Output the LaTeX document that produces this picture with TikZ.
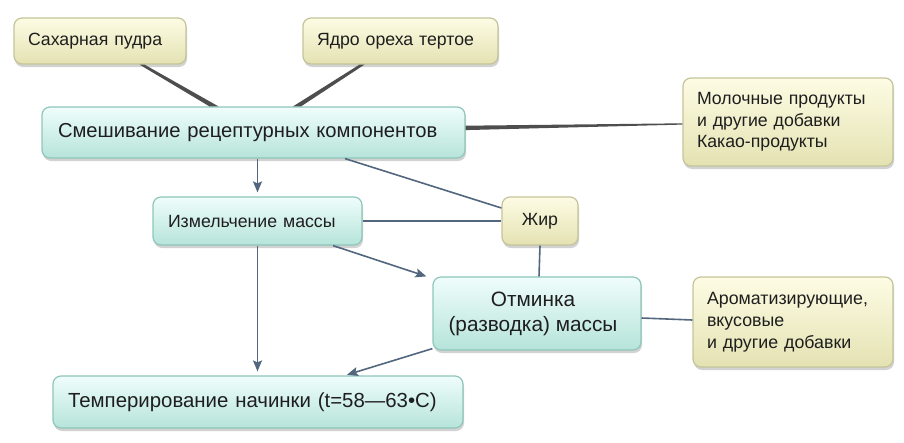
\documentclass[tikz,border=0pt]{standalone}
\usepackage{fontspec}
\setmainfont{Liberation Sans}
\usetikzlibrary{arrows.meta,shadows,calc}
\definecolor{ytop}{HTML}{FDFCE4}
\definecolor{ybot}{HTML}{E4E2B2}
\definecolor{yedge}{HTML}{C4C49A}
\definecolor{ctop}{HTML}{EFFDFB}
\definecolor{cbot}{HTML}{B6E4DA}
\definecolor{cedge}{HTML}{8EC6BA}
\definecolor{conn}{HTML}{52677D}
\definecolor{thick}{HTML}{4E4E4E}
\definecolor{txt}{HTML}{1E1E1E}
\tikzset{
  box/.style={rounded corners=8pt, line width=1.2pt, inner sep=0pt, text=txt,
    drop shadow={shadow xshift=1pt, shadow yshift=-3pt, opacity=0.25, fill=black!70}},
  ybox/.style={box, draw=yedge, top color=ytop, bottom color=ybot},
  cbox/.style={box, draw=cedge, top color=ctop, bottom color=cbot},
  conline/.style={draw=conn, line width=1.6pt},
  conarrow/.style={conline, -{Stealth[length=11pt,width=9pt,inset=2pt]}},
  thickfill/.style={fill=thick},
  smallfont/.style={font=\fontsize{17.7}{21.5}\selectfont},
}
\begin{document}
\begin{tikzpicture}[x=1pt,y=-1pt]
\useasboundingbox (0,0) rectangle (904,442);
\node[ybox, smallfont, minimum width=172pt, minimum height=46pt, text width=144pt, align=left] (sugar) at (100,41) {Сахарная пудра};
\node[ybox, smallfont, minimum width=195pt, minimum height=46pt, text width=167pt, align=left] (nut) at (400.5,41) {Ядро ореха тертое};
\node[cbox, minimum width=423pt, minimum height=51pt, text width=391pt, align=left, font=\fontsize{20.2}{24}\selectfont] (mix) at (253.5,132.5) {Смешивание рецептурных компонентов};
\node[ybox, smallfont, minimum width=210pt, minimum height=88pt, text width=182pt, align=left] (milk) at (788,122) {Молочные продукты\\и другие добавки\\Какао-продукты};
\node[cbox, smallfont, minimum width=209pt, minimum height=48pt, text width=179pt, align=left] (grind) at (257.5,221) {Измельчение массы};
\node[ybox, smallfont, minimum width=76pt, minimum height=48pt, align=center] (fat) at (540,221) {Жир};
\node[cbox, minimum width=208pt, minimum height=73pt, align=center, font=\fontsize{20.8}{25}\selectfont] (knead) at (537,313.5) {\hspace*{-8pt}Отминка\\\hspace*{-8pt}(разводка) массы};
\node[ybox, minimum width=200pt, minimum height=90pt, text width=172pt, align=left, font=\fontsize{17.8}{22}\selectfont] (arom) at (793,322) {Ароматизирующие,\\вкусовые\\и другие добавки};
\node[cbox, minimum width=410pt, minimum height=52pt, text width=380pt, align=left, font=\fontsize{20.4}{24}\selectfont] (temper) at (258,402) {Темперирование начинки (t=58—63•C)};
% thick tapered connectors
\fill[thickfill] ([xshift=39.5pt]sugar.south) -- ([xshift=44.5pt]sugar.south)
  -- ([xshift=-35pt]mix.north) -- ([xshift=-44pt]mix.north) -- cycle;
\fill[thickfill] ([xshift=-41pt]nut.south) -- ([xshift=-36pt]nut.south)
  -- ([xshift=47.5pt]mix.north) -- ([xshift=39.5pt]mix.north) -- cycle;
\fill[thickfill] ([yshift=6.8pt]mix.east) -- ([yshift=-1.3pt]milk.west)
  -- ([yshift=-2.6pt]milk.west) -- ([yshift=2.4pt]mix.east) -- cycle;
% thin connectors
\draw[conarrow, shorten >=4pt] (grind.north |- mix.south) -- (grind.north);
\draw[conline] ([xshift=91.5pt]mix.south) -- ([yshift=13pt]fat.west);
\draw[conline] (grind.east) -- (fat.west);
\draw[conarrow] ([xshift=75.5pt]grind.south) -- ([xshift=-6pt]knead.north west);
\draw[conline] (fat.south) -- ([xshift=2pt]knead.north);
\draw[conarrow, shorten >=4pt] (grind.south) -- (grind.south |- temper.north);
\draw[conarrow, shorten >=2pt] ([yshift=2pt]knead.south west) -- ([xshift=87pt]temper.north);
\draw[conline] ([yshift=-4.5pt]knead.east) -- ([yshift=2pt]arom.west);
\end{tikzpicture}
\end{document}
